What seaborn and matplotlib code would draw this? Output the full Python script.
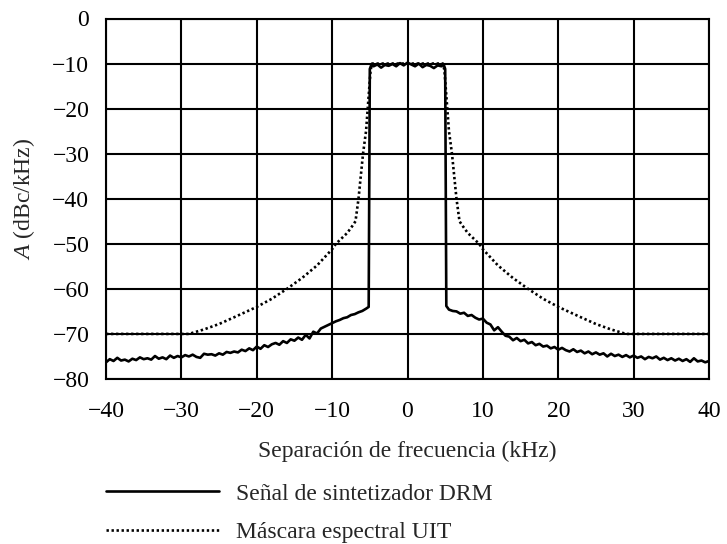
import numpy as np
import pandas as pd
import matplotlib
matplotlib.use("Agg")
import matplotlib.pyplot as plt
import seaborn as sns

# ---- data ----
sig_left_x = [-40.0, -39.5, -39.0, -38.5, -38.0, -37.5, -37.0, -36.5, -36.0, -35.5, -35.0, -34.5,
              -34.0, -33.5, -33.0, -32.5, -32.0, -31.5, -31.0, -30.5, -30.0, -29.5, -29.0, -28.5,
              -28.0, -27.5, -27.0, -26.5, -26.0, -25.5, -25.0, -24.5, -24.0, -23.5, -23.0, -22.5,
              -22.0, -21.5, -21.0, -20.5, -20.0, -19.5, -19.0, -18.5, -18.0, -17.5, -17.0, -16.5,
              -16.0, -15.5, -15.0, -14.5, -14.0, -13.5, -13.0, -12.5, -12.0, -11.5, -11.0, -10.5,
              -10.0, -9.5, -9.0, -8.5, -8.0, -7.5, -7.0, -6.5, -6.0, -5.5, -5.15]
sig_left_y = [-76.3, -75.6, -76.0, -75.3, -75.9, -75.7, -76.1, -75.5, -75.8, -75.2, -75.6, -75.4,
              -75.7, -74.9, -75.5, -75.2, -75.6, -74.8, -75.3, -74.9, -75.2, -74.7, -75.0, -74.6,
              -75.1, -75.3, -74.4, -74.6, -74.5, -74.8, -74.3, -74.6, -74.0, -74.2, -73.9, -74.1,
              -73.5, -73.8, -73.2, -73.6, -72.8, -73.3, -72.5, -72.9, -72.3, -72.0, -72.4, -71.6,
              -72.0, -71.2, -71.5, -70.8, -71.3, -70.2, -71.0, -69.5, -69.9, -68.8, -68.4, -68.0,
              -67.6, -67.2, -66.9, -66.5, -66.3, -65.8, -65.6, -65.2, -64.9, -64.4, -64.0]
sig_top_x = [-5.0, -4.8, -4.5, -4.0, -3.5, -3.0, -2.5, -2.0, -1.5, -1.0, -0.5, 0.0,
             0.5, 1.0, 1.5, 2.0, 2.5, 3.0, 3.5, 4.0, 4.5, 4.8, 5.0]
sig_top_y = [-11.2, -10.3, -10.6, -10.2, -10.9, -10.3, -10.5, -10.1, -10.6, -9.9, -10.4, -9.8,
             -10.2, -10.6, -10.0, -10.8, -10.3, -10.5, -11.0, -10.4, -10.6, -10.2, -11.2]
sig_right_x = [5.15, 5.5, 6.0, 6.5, 7.0, 7.5, 8.0, 8.5, 9.0, 9.5, 10.0, 10.5, 11.0, 11.5, 12.0,
               12.5, 13.0, 13.5, 14.0, 14.5, 15.0, 15.5, 16.0, 16.5, 17.0, 17.5, 18.0, 18.5,
               19.0, 19.5, 20.0, 20.5, 21.0, 21.5, 22.0, 22.5, 23.0, 23.5, 24.0, 24.5, 25.0,
               25.5, 26.0, 26.5, 27.0, 27.5, 28.0, 28.5, 29.0, 29.5, 30.0, 30.5, 31.0, 31.5,
               32.0, 32.5, 33.0, 33.5, 34.0, 34.5, 35.0, 35.5, 36.0, 36.5, 37.0, 37.5, 38.0,
               38.5, 39.0, 39.5, 40.0]
sig_right_y = [-63.8, -64.6, -64.9, -65.0, -65.5, -65.3, -66.0, -65.8, -66.4, -66.8, -66.6, -67.5,
               -67.9, -69.2, -68.5, -69.5, -70.4, -70.6, -71.4, -70.9, -71.6, -71.3, -72.1, -71.8,
               -72.5, -72.2, -72.8, -72.6, -73.2, -72.9, -73.5, -73.1, -73.6, -73.9, -73.4, -74.0,
               -73.7, -74.3, -73.9, -74.5, -74.1, -74.6, -74.3, -75.0, -74.4, -74.9, -74.6, -75.1,
               -74.7, -75.2, -74.8, -75.3, -75.0, -75.6, -75.1, -75.4, -75.0, -75.7, -75.3, -75.8,
               -75.4, -75.9, -75.5, -76.0, -75.6, -76.2, -75.4, -76.1, -75.9, -76.3, -76.0]

mask_x = [-40, -29, -27, -25, -23, -20, -18, -16, -14, -12, -10, -9.5, -8, -7.3, -6.9, -6.5,
          -5.9, -5.5, -4.9, -4.7, 4.7, 4.9, 5.5, 5.9, 6.5, 6.9, 7.3, 8, 9.5, 10, 12, 14, 16,
          18, 20, 23, 25, 27, 29, 40]
mask_y = [-70, -70, -69.0, -67.8, -66.3, -64.0, -62.2, -60.0, -57.6, -54.8, -51.2, -50.0, -47.6,
          -46.0, -45.0, -40.0, -30.0, -25.0, -11.5, -10.0, -10.0, -11.5, -25.0, -30.0, -40.0,
          -45.0, -46.0, -47.6, -50.0, -51.2, -54.8, -57.6, -60.0, -62.2, -64.0, -66.3, -67.8,
          -69.0, -70, -70]

x_ticks = [-40, -30, -20, -10, 0, 10, 20, 30, 40]
y_ticks = [0, -10, -20, -30, -40, -50, -60, -70, -80]
label_signal = "Señal de sintetizador DRM"
label_mask = "Máscara espectral UIT"
x_label = "Separación de frecuencia (kHz)"
y_label = r"$\mathit{A}$ (dBc/kHz)"

# ---- build frames ----
sig_df = pd.DataFrame({"f": sig_left_x + sig_top_x + sig_right_x,
                       "a": sig_left_y + sig_top_y + sig_right_y})
mask_df = pd.DataFrame({"f": mask_x, "a": mask_y})

sns.set_style("white")
plt.rcParams["font.family"] = ["Liberation Serif", "DejaVu Serif"]
plt.rcParams["mathtext.fontset"] = "custom"
plt.rcParams["mathtext.it"] = "Liberation Serif:italic"
plt.rcParams["mathtext.rm"] = "Liberation Serif"

fs = 17
fig = plt.figure(figsize=(7.27, 5.44), dpi=100)
ax = fig.add_axes([106 / 727, 1 - 379 / 544, (709 - 106) / 727, (379 - 18.5) / 544])

sns.lineplot(data=sig_df, x="f", y="a", ax=ax, sort=False, estimator=None,
             color="black", linewidth=1.9, label=label_signal, zorder=3)
sns.lineplot(data=mask_df, x="f", y="a", ax=ax, sort=False, estimator=None,
             color="black", linewidth=1.9, linestyle=(0, (0.9, 1.0)),
             label=label_mask, zorder=4)

ax.set_xlim(-40, 40)
ax.set_ylim(-80, 0)
ax.set_xticks(x_ticks)
ax.set_yticks(y_ticks)
ax.grid(True, color="black", linewidth=1.5)
ax.set_axisbelow(True)
for s in ax.spines.values():
    s.set_color("black")
    s.set_linewidth(1.5)
ax.tick_params(axis="both", length=0, labelsize=fs, colors="black")
ax.tick_params(axis="x", pad=15.5)
ax.tick_params(axis="y", pad=12)

ax.set_xlabel(x_label, fontsize=fs)
ax.set_ylabel(y_label, fontsize=fs)
ax.xaxis.set_label_coords(0.5, -0.171)
ax.yaxis.set_label_coords(-0.114, 0.5)

handles, labels = ax.get_legend_handles_labels()
ax.get_legend().remove()
fig.legend(handles, labels, loc="upper left",
           bbox_to_anchor=(106 / 727, 1 - 483 / 544), bbox_transform=fig.transFigure,
           frameon=False, fontsize=fs, handlelength=4.8, handletextpad=0.7,
           labelspacing=0.72, borderpad=0, borderaxespad=0)

fig.savefig("out.png", dpi=100, facecolor="white")
